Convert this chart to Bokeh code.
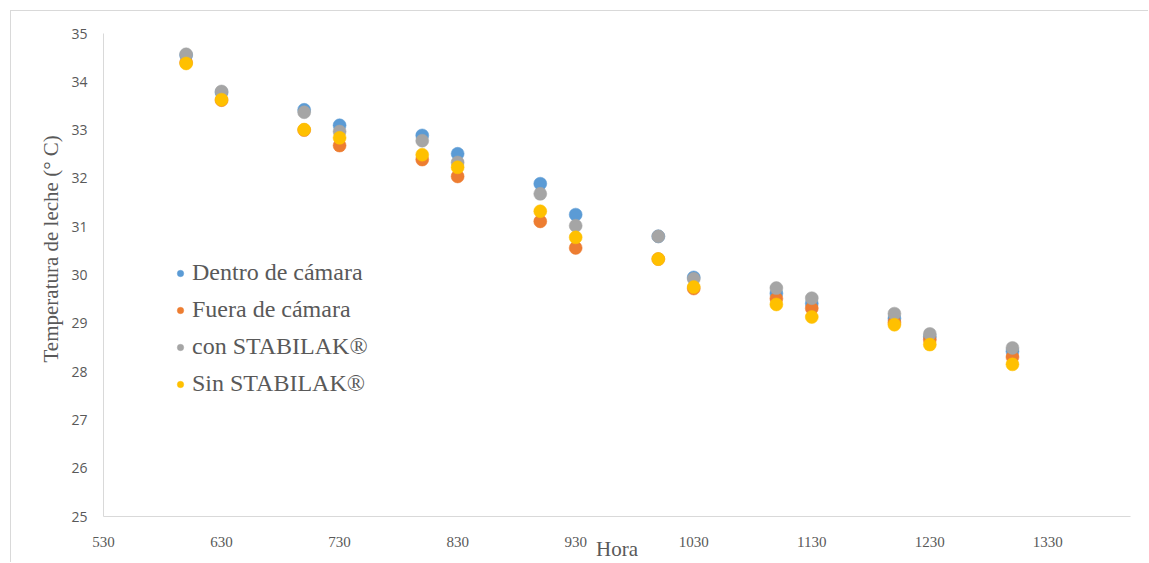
from bokeh.plotting import figure
from bokeh.models import FixedTicker, Legend, LegendItem, ColumnDataSource, Title
from bokeh.embed import file_html
from bokeh.resources import INLINE

hora = [600, 630, 700, 730, 800, 830, 900, 930, 1000, 1030, 1100, 1130, 1200, 1230, 1300]
dentro = [34.55, 33.78, 33.42, 33.10, 32.89, 32.51, 31.89, 31.25, 30.80, 29.95, 29.62, 29.41, 29.10, 28.72, 28.42]
fuera = [34.40, 33.62, 33.00, 32.68, 32.39, 32.04, 31.11, 30.56, 30.33, 29.72, 29.51, 29.31, 29.02, 28.66, 28.30]
con_stab = [34.57, 33.80, 33.37, 32.97, 32.78, 32.33, 31.68, 31.02, 30.80, 29.92, 29.73, 29.52, 29.20, 28.78, 28.49]
sin_stab = [34.38, 33.63, 33.01, 32.84, 32.49, 32.23, 31.32, 30.78, 30.33, 29.75, 29.39, 29.13, 28.97, 28.56, 28.15]

series_names = ["Dentro de cámara", "Fuera de cámara", "con STABILAK®", "Sin STABILAK®"]
series_vals = [dentro, fuera, con_stab, sin_stab]
colors = ["#5B9BD5", "#ED7D31", "#A5A5A5", "#FFC000"]

x_ticks = [530, 630, 730, 830, 930, 1030, 1130, 1230, 1330]
y_ticks = [25, 26, 27, 28, 29, 30, 31, 32, 33, 34, 35]

p = figure(width=1138, height=552, x_range=(530, 1400), y_range=(25, 35),
           output_backend="svg", toolbar_location=None,
           min_border_left=92, min_border_right=19, min_border_top=22, min_border_bottom=47)
p.styles = {"border-top": "1px solid #d9d9d9", "border-left": "1px solid #d9d9d9",
            "margin-left": "10px", "margin-top": "10px"}
p.outline_line_color = None
p.xgrid.grid_line_color = None
p.ygrid.grid_line_color = None

items = []
for name, vals, c in zip(series_names, series_vals, colors):
    src = ColumnDataSource(dict(x=hora, y=vals))
    r = p.scatter("x", "y", source=src, size=13, fill_color=c, line_color=c, line_width=0.5)
    items.append(LegendItem(label=name, renderers=[r]))

legend = Legend(items=items, location=(69, 119), border_line_color=None,
                background_fill_alpha=0, label_text_font="Liberation Serif",
                label_text_font_size="24px", label_text_color="#595959",
                glyph_width=16, glyph_height=16, label_standoff=4,
                label_height=24, spacing=10, padding=0, margin=0)
p.add_layout(legend, "center")

for ax in (p.xaxis[0], p.yaxis[0]):
    ax.axis_line_color = "#d9d9d9"
    ax.major_tick_line_color = None
    ax.minor_tick_line_color = None
    ax.major_label_text_color = "#595959"
    ax.axis_label_text_color = "#595959"
    ax.axis_label_text_font = "Liberation Serif"
    ax.axis_label_text_font_style = "normal"
    ax.axis_label_text_font_size = "21px"

p.xaxis.ticker = FixedTicker(ticks=x_ticks)
p.yaxis.ticker = FixedTicker(ticks=y_ticks)
p.xaxis.major_label_text_font = "Liberation Sans Narrow"
p.xaxis.major_label_text_font_size = "15px"
p.yaxis.major_label_text_font = "Open Sans"
p.yaxis.major_label_text_font_size = "14px"
p.xaxis.major_label_standoff = 14
p.yaxis.major_label_standoff = 10
p.xaxis.axis_label = "Hora"
p.xaxis.axis_label_standoff = -13

ytitle = Title(text="Temperatura de leche (° C)", align="left", offset=154, standoff=12,
               text_font="Liberation Serif", text_font_size="21px",
               text_font_style="normal", text_color="#595959")
p.add_layout(ytitle, "left")

open("out.html", "w").write(file_html(p, INLINE))
